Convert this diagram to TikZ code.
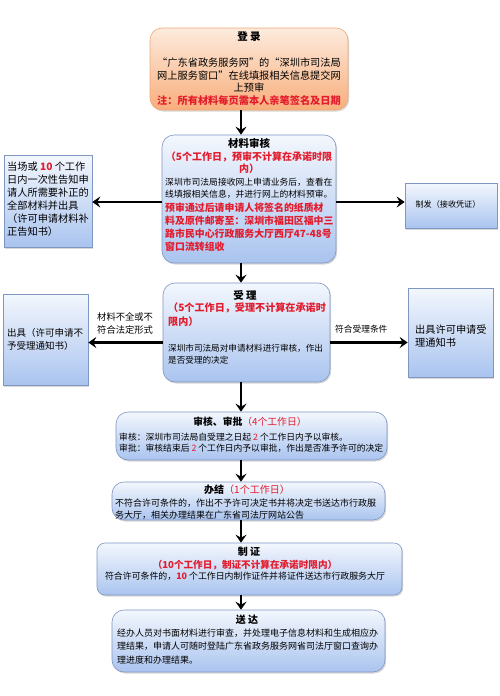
\documentclass[tikz,border=0pt]{standalone}
\usepackage{fontspec}
\setmainfont{Noto Sans CJK SC}
\usetikzlibrary{arrows.meta,shadows}
\definecolor{btop}{HTML}{F3F7FD}
\definecolor{bbot}{HTML}{AAC4EF}
\definecolor{bline}{HTML}{8096C2}
\definecolor{otop}{HTML}{FDEBDD}
\definecolor{obot}{HTML}{F8AE7C}
\definecolor{oline}{HTML}{EFA877}
\definecolor{red1}{HTML}{E31B2C}
\newcommand{\fsz}[2]{\fontsize{#1}{#2}\selectfont}
\newcommand{\rd}[1]{{\color{red1}#1}}
\tikzset{
 shad/.style={drop shadow={shadow xshift=1.2pt,shadow yshift=-1.5pt,opacity=0.25,fill=black!60}},
 bbox/.style={shad,draw=bline, line width=0.6pt, top color=btop, bottom color=bbot, rounded corners=12pt, inner sep=0pt},
 sbox/.style={shad,draw=bline, line width=0.6pt, top color=btop, bottom color=bbot, inner sep=0pt},
 obox/.style={shad,draw=oline, line width=0.6pt, top color=otop, bottom color=obot, rounded corners=12pt, inner sep=0pt},
 txt/.style={inner sep=0pt, align=left},
 arr/.style={line width=2.2pt, -{Stealth[length=8pt,width=11pt,inset=3pt]}},
}
\begin{document}
\begin{tikzpicture}[x=1pt,y=-1pt]
\fill[white] (0,0) rectangle (500,696);
\useasboundingbox (0,0) rectangle (500,696);
% boxes
\node[obox, minimum width=198pt, minimum height=82pt] (b1) at (249,69) {};
\node[bbox, minimum width=174pt, minimum height=128pt] (b2) at (249,199) {};
\node[sbox, minimum width=88pt, minimum height=92pt] (L2) at (48,201) {};
\node[sbox, minimum width=92pt, minimum height=45pt] (R2) at (451,205.5) {};
\node[bbox, minimum width=167pt, minimum height=99pt] (b3) at (246.5,332.5) {};
\node[sbox, minimum width=85pt, minimum height=91pt] (L3) at (45.5,339.5) {};
\node[sbox, minimum width=85pt, minimum height=89pt] (R3) at (450.5,332.5) {};
\node[bbox, minimum width=271pt, minimum height=48pt] (b4) at (251.5,436) {};
\node[bbox, minimum width=273pt, minimum height=38pt] (b5) at (248.5,501) {};
\node[bbox, rounded corners=8pt, minimum width=305pt, minimum height=52pt] (b6) at (249.5,569) {};
\node[bbox, minimum width=273pt, minimum height=62pt] (b7) at (248.5,641) {};
% texts
\node[txt, font=\fsz{10.5}{12}\bfseries] (t1a) at (249,37) {登\ 录};
\node[txt, anchor=north, align=center, font=\fsz{10.2}{12.5}] (t1b) at (249,57.9) {“广东省政务服务网”的“深圳市司法局\\网上服务窗口”在线填报相关信息提交网\\上预审\\{\color{red1}\bfseries 注：所有材料每页需本人亲笔签名及日期}};
\node[txt, font=\fsz{10.5}{12}\bfseries] (t2a) at (249,143) {材料审核};
\node[txt, anchor=north, align=center, text=red1, font=\fsz{10}{12}\bfseries] (t2b) at (249,152) {（5个工作日，预审不计算在承诺时限\\内）};
\node[txt, anchor=north west, font=\fsz{8.8}{12}] (t2c) at (165,177.6) {深圳市司法局接收网上申请业务后，查看在\\线填报相关信息，并进行网上的材料预审。};
\node[txt, anchor=north west, text=red1, font=\fsz{9.9}{12.8}\bfseries] (t2d) at (165,203) {预审通过后请申请人将签名的纸质材\\料及原件邮寄至：深圳市福田区福中三\\路市民中心行政服务大厅西厅47-48号\\窗口流转组收};
\node[txt, anchor=north west, font=\fsz{10.2}{13}] (t3) at (7,161.9) {当场或 {\color{red1}\bfseries 10} 个工作\\日内一次性告知申\\请人所需要补正的\\全部材料并出具\\（许可申请材料补\\正告知书）};
\node[txt, font=\fsz{8.1}{10}] (t4) at (448,204) {制发（接收凭证）};
\node[txt, font=\fsz{10.5}{12}\bfseries] (t5a) at (245,295) {受\ 理};
\node[txt, anchor=north west, text=red1, font=\fsz{10.1}{14}\bfseries] (t5b) at (168,303) {（5个工作日，受理不计算在承诺时\\限内）};
\node[txt, anchor=north west, font=\fsz{8.6}{12}] (t5c) at (168,343.7) {深圳市司法局对申请材料进行审核，作出\\是否受理的决定};
\node[txt, anchor=north west, font=\fsz{9.5}{12.5}] (t6) at (7,328.2) {出具（许可申请不\\予受理通知书）};
\node[txt, anchor=north west, font=\fsz{10.2}{13}] (t7) at (415,324.9) {出具许可申请受\\理通知书};
\node[txt, anchor=north west, font=\fsz{9.3}{13}] (lab1) at (97,312.4) {材料不全或不\\符合法定形式};
\node[txt, anchor=west, font=\fsz{8.7}{11}] (lab2) at (335,329) {符合受理条件};
\node[txt, font=\fsz{9.8}{12}] (t8a) at (250,422) {\textbf{审核、审批}\rd{（4个工作日）}};
\node[txt, anchor=north west, font=\fsz{8.8}{11.5}] (t8b) at (119,432.6) {审核：深圳市司法局自受理之日起 \rd{2} 个工作日内予以审核。\\审批：审核结束后 \rd{2} 个工作日内予以审批，作出是否准予许可的决定};
\node[txt, font=\fsz{10}{12}] (t9a) at (247,490) {\textbf{办结}\rd{（1个工作日）}};
\node[txt, anchor=north west, font=\fsz{9}{12}] (t9b) at (115,498.5) {不符合许可条件的，作出不予许可决定书并将决定书送达市行政服\\务大厅，相关办理结果在广东省司法厅网站公告};
\node[txt, font=\fsz{10}{12}\bfseries] (t10a) at (249,552) {制\ 证};
\node[txt, text=red1, font=\fsz{9.6}{12}\bfseries] (t10b) at (245,565) {（10个工作日，制证不计算在承诺时限内）};
\node[txt, font=\fsz{8.9}{12}] (t10c) at (245,576.5) {符合许可条件的，{\color{red1}\bfseries 10} 个工作日内制作证件并将证件送达市行政服务大厅};
\node[txt, font=\fsz{10}{12}\bfseries] (t11a) at (247,620) {送\ 达};
\node[txt, anchor=north west, font=\fsz{9}{13.5}] (t11b) at (117,628.5) {经办人员对书面材料进行审查，并处理电子信息材料和生成相应办\\理结果，申请人可随时登陆广东省政务服务网省司法厅窗口查询办\\理进度和办理结果。};
% connectors
\coordinate (ax) at (241,0);
\coordinate (y2) at (0,202);
\coordinate (y3) at (0,342.5);
\draw[arr] (b1.south -| ax) -- (b2.north -| ax);
\draw[arr] (b2.south -| ax) -- (b3.north -| ax);
\draw[arr] (b3.south -| ax) -- (b4.north -| ax);
\draw[arr] (b4.south -| ax) -- (b5.north -| ax);
\draw[arr] (b5.south -| ax) -- (b6.north -| ax);
\draw[arr] (b6.south -| ax) -- (b7.north -| ax);
\draw[arr] (b2.west |- y2) -- (L2.east |- y2);
\draw[arr] (b2.east |- y2) -- (R2.west |- y2);
\draw[arr] (b3.west |- y3) -- (L3.east |- y3);
\draw[arr] (b3.east |- y3) -- (R3.west |- y3);
\end{tikzpicture}
\end{document}
